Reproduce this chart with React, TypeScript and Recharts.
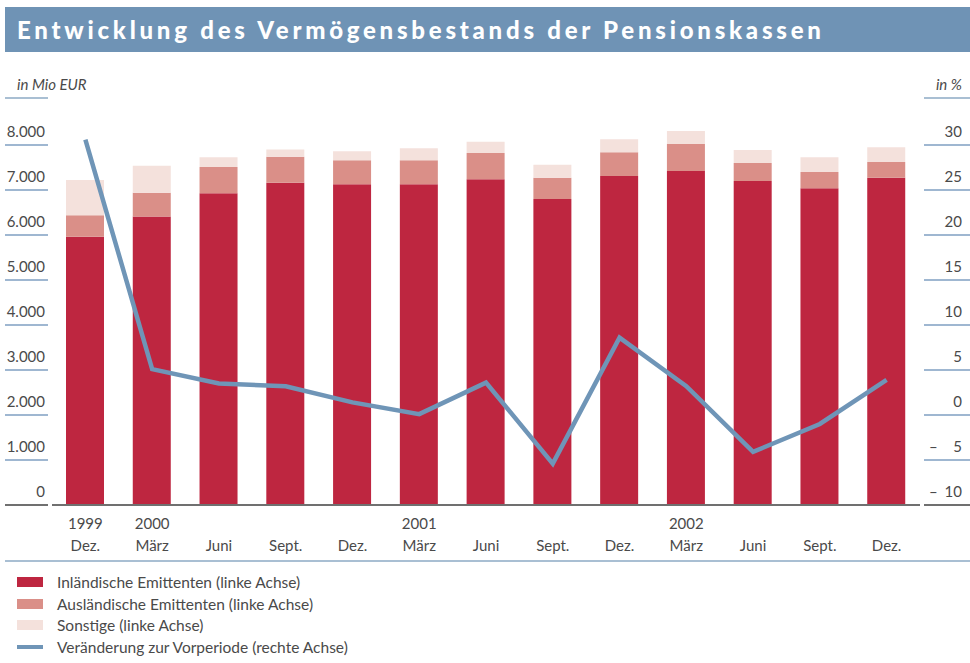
import React from 'react';
import { ComposedChart, Bar, Line, XAxis, YAxis } from 'recharts';

// Quartalsstände Dez. 1999 bis Dez. 2002
const months = ['Dez.', 'März', 'Juni', 'Sept.', 'Dez.', 'März', 'Juni', 'Sept.', 'Dez.', 'März', 'Juni', 'Sept.', 'Dez.'];
const years = ['1999', '2000', '', '', '', '2001', '', '', '', '2002', '', '', ''];

// in Mio EUR
const domestic = [5960, 6410, 6930, 7160, 7130, 7130, 7240, 6800, 7310, 7420, 7200, 7040, 7270];
const foreign = [480, 530, 580, 580, 530, 530, 580, 470, 530, 600, 400, 360, 350];
const other = [780, 600, 220, 160, 200, 270, 250, 290, 290, 290, 290, 330, 330];

// in %
const change = [30.6, 5.1, 3.5, 3.2, 1.4, 0.1, 3.6, -5.4, 8.6, 3.2, -4.1, -1.0, 3.9];

const leftTicks = [0, 1000, 2000, 3000, 4000, 5000, 6000, 7000, 8000];
const rightTicks = [-10, -5, 0, 5, 10, 15, 20, 25, 30];

const data = months.map((m, i) => ({
  idx: i,
  domestic: domestic[i],
  foreign: foreign[i],
  other: other[i],
  change: change[i],
}));

const COLORS = {
  domestic: '#be2640',
  foreign: '#da8f88',
  other: '#f4e1dc',
  line: '#6f95b7',
  tick: '#7f9fc2',
  axis: '#707070',
  text: '#4a4a4a',
};

const FONT = 'Lato, "Open Sans", sans-serif';

const fmt = (v: number) => String(v).replace(/\B(?=(\d{3})+(?!\d))/g, '.');

function LeftTick({ y, payload }: any) {
  const zero = payload.value === 0;
  return (
    <g>
      <line x1={5} x2={48} y1={y} y2={y} stroke={zero ? COLORS.axis : COLORS.tick} strokeWidth={zero ? 2 : 1.5} />
      <text x={45} y={y - 8} textAnchor="end" fill={COLORS.text} fontSize={15} fontFamily={FONT}>
        {fmt(payload.value)}
      </text>
    </g>
  );
}

function RightTick({ y, payload }: any) {
  const v = payload.value;
  const bottom = v === -10;
  return (
    <g>
      <line x1={924} x2={970} y1={y} y2={y} stroke={bottom ? COLORS.axis : COLORS.tick} strokeWidth={bottom ? 2 : 1.5} />
      {v < 0 && (
        <text x={929} y={y - 8} fill={COLORS.text} fontSize={15} fontFamily={FONT}>
          –
        </text>
      )}
      <text x={962} y={y - 8} textAnchor="end" fill={COLORS.text} fontSize={15} fontFamily={FONT}>
        {Math.abs(v)}
      </text>
    </g>
  );
}

function MonthTick({ x, payload }: any) {
  const i = payload.value;
  return (
    <g>
      {years[i] && (
        <text x={x} y={529} textAnchor="middle" fill={COLORS.text} fontSize={15} fontFamily={FONT}>
          {years[i]}
        </text>
      )}
      <text x={x} y={551} textAnchor="middle" fill={COLORS.text} fontSize={15} fontFamily={FONT}>
        {months[i]}
      </text>
    </g>
  );
}

const legendItems = [
  { label: 'Inländische Emittenten (linke Achse)', color: COLORS.domestic, line: false },
  { label: 'Ausländische Emittenten (linke Achse)', color: COLORS.foreign, line: false },
  { label: 'Sonstige (linke Achse)', color: COLORS.other, line: false },
  { label: 'Veränderung zur Vorperiode (rechte Achse)', color: COLORS.line, line: true },
];

export default function App() {
  return (
    <div style={{ position: 'absolute', left: 0, top: 0, width: 970, height: 663, background: '#fff', fontFamily: FONT, overflow: 'hidden' }}>
      <div
        style={{
          position: 'absolute', left: 5, top: 7, width: 965, height: 45, background: '#6f93b5',
          color: '#fff', fontWeight: 900, fontSize: 24, letterSpacing: 3.75, lineHeight: '45px', paddingLeft: 12, boxSizing: 'border-box', whiteSpace: 'nowrap',
        }}
      >
        Entwicklung des Vermögensbestands der Pensionskassen
      </div>

      <div style={{ position: 'absolute', left: 17, top: 75, fontSize: 15, fontStyle: 'italic', color: COLORS.text }}>in Mio EUR</div>
      <div style={{ position: 'absolute', left: 5, top: 97, width: 43, height: 2, background: '#a9bfd3' }} />
      <div style={{ position: 'absolute', right: 8, top: 75, fontSize: 15, fontStyle: 'italic', color: COLORS.text }}>in %</div>
      <div style={{ position: 'absolute', left: 924, top: 97, width: 46, height: 2, background: '#a9bfd3' }} />

      <div style={{ position: 'absolute', left: 0, top: 0 }}>
        <ComposedChart width={970} height={663} data={data} margin={{ top: 100, right: 0, bottom: 98, left: 0 }}>
          <XAxis
            dataKey="idx"
            interval={0}
            height={60}
            tickLine={false}
            axisLine={{ stroke: COLORS.axis, strokeWidth: 2 }}
            tick={<MonthTick />}
          />
          <YAxis
            yAxisId="left"
            orientation="left"
            width={52}
            domain={[0, 9000]}
            ticks={leftTicks}
            axisLine={false}
            tickLine={false}
            tick={<LeftTick />}
          />
          <YAxis
            yAxisId="right"
            orientation="right"
            width={50}
            domain={[-10, 35]}
            ticks={rightTicks}
            axisLine={false}
            tickLine={false}
            tick={<RightTick />}
          />
          <Bar yAxisId="left" dataKey="domestic" stackId="a" fill={COLORS.domestic} barSize={38} isAnimationActive={false} />
          <Bar yAxisId="left" dataKey="foreign" stackId="a" fill={COLORS.foreign} barSize={38} isAnimationActive={false} />
          <Bar yAxisId="left" dataKey="other" stackId="a" fill={COLORS.other} barSize={38} isAnimationActive={false} />
          <Line
            yAxisId="right"
            dataKey="change"
            type="linear"
            stroke={COLORS.line}
            strokeWidth={4.5}
            dot={false}
            isAnimationActive={false}
          />
        </ComposedChart>
      </div>

      <div style={{ position: 'absolute', left: 5, top: 560, width: 965, height: 2, background: '#a9bfd3' }} />

      {legendItems.map((it, i) => (
        <div key={it.label} style={{ position: 'absolute', left: 17, top: 572 + i * 21.5, height: 20, display: 'flex', alignItems: 'center' }}>
          <div style={{ width: 26, height: it.line ? 4 : 10, background: it.color, marginRight: 14 }} />
          <span style={{ fontSize: 15.5, color: COLORS.text, whiteSpace: 'nowrap' }}>{it.label}</span>
        </div>
      ))}
    </div>
  );
}
